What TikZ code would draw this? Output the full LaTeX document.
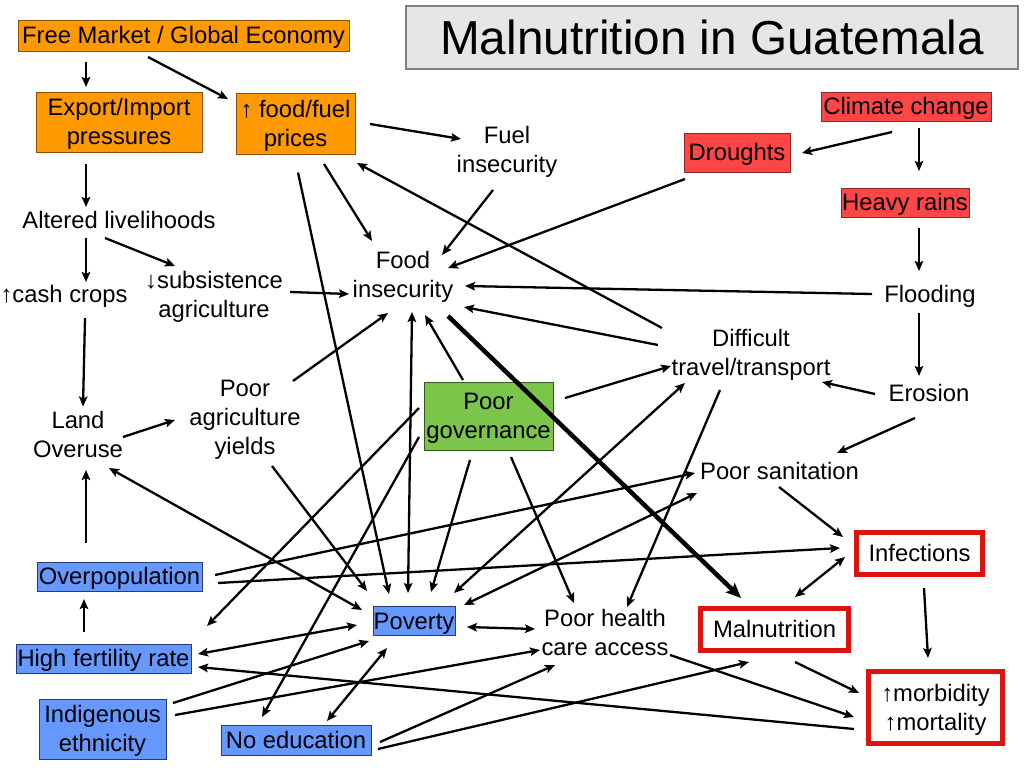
\documentclass[tikz,border=0pt]{standalone}
\usepackage{fontspec}
\setmainfont{Liberation Sans}
\usetikzlibrary{arrows.meta}
\definecolor{orF}{RGB}{255,153,0}
\definecolor{orD}{RGB}{140,80,10}
\definecolor{rdF}{RGB}{255,70,70}
\definecolor{rdD}{RGB}{140,40,40}
\definecolor{blF}{RGB}{102,153,255}
\definecolor{blD}{RGB}{40,60,120}
\definecolor{grF}{RGB}{122,197,74}
\definecolor{grD}{RGB}{50,90,30}
\definecolor{rdO}{RGB}{220,20,15}
\definecolor{ttF}{RGB}{230,230,230}
\definecolor{ttD}{RGB}{128,128,128}
\newcommand\sT{\rule[-6.1pt]{0pt}{29pt}}
\newcommand\cnx[5][con]{\draw[#1] ([shift={(#3)}]#2.center) -- ([shift={(#5)}]#4.center);}
\begin{document}
\begin{tikzpicture}[x=1pt,y=-1pt,
  lab/.style={align=center,inner sep=0pt,outer sep=0pt,font=\fontsize{23.8}{29}\selectfont},
  obox/.style={lab,draw=orD,fill=orF,line width=0.9pt},
  rbox/.style={lab,draw=rdD,fill=rdF,line width=0.9pt},
  bbox/.style={lab,draw=blD,fill=blF,line width=0.9pt},
  gbox/.style={lab,draw=grD,fill=grF,line width=0.9pt},
  obx/.style={lab,draw=rdO,fill=white,line width=5pt},
  con/.style={line width=2.3pt,-{Stealth[length=10pt,width=8.5pt,inset=2pt]}},
  dcon/.style={line width=2.3pt,{Stealth[length=10pt,width=8.5pt,inset=2pt]}-{Stealth[length=10pt,width=8.5pt,inset=2pt]}},
  thk/.style={line width=4.5pt,-{Stealth[length=15pt,width=13pt,inset=3pt]}}]
\path[fill=white,use as bounding box] (0,0) rectangle (1024,768);
% title
\node[draw=ttD,fill=ttF,line width=1.5pt,inner sep=0pt,minimum width=612pt,minimum height=63pt,
  font=\fontsize{47.7}{57}\selectfont,text height=34.2pt,text depth=0pt] (title) at (712,37.5) {Malnutrition in Guatemala};
% orange
\node[obox,minimum width=331pt,minimum height=31pt] (fm) at (183.5,35.5) {\sT Free Market / Global Economy};
\node[obox,minimum width=166pt,minimum height=60pt] (exp) at (119,122) {\sT Export/Import\\\sT pressures};
\node[obox,minimum width=119pt,minimum height=61pt] (ffp) at (295.5,123.5) {\sT ↑ food/fuel\\\sT prices};
% red
\node[rbox,minimum width=170pt,minimum height=29pt] (cc) at (906,106.5) {\sT Climate change};
\node[rbox,minimum width=106pt,minimum height=39pt] (dr) at (737,152.5) {\sT Droughts};
\node[rbox,minimum width=128pt,minimum height=29pt] (hr) at (905,202.5) {\sT Heavy rains};
% plain text
\node[lab] (fuel) at (507,149.5) {\sT Fuel\\\sT insecurity};
\node[lab] (alt) at (119,220) {\sT Altered livelihoods};
\node[lab] (cash) at (64,294) {\sT ↑cash crops};
\node[lab] (sub) at (214,295) {\sT ↓subsistence\\\sT agriculture};
\node[lab] (food) at (403,275) {\sT Food\\\sT insecurity};
\node[lab] (flood) at (930,294) {\sT Flooding};
\node[lab] (diff) at (751,353) {\sT Difficult\\\sT travel/transport};
\node[lab] (land) at (78,434.5) {\sT Land\\\sT Overuse};
\node[lab] (pay) at (245,417.5) {\sT Poor\\\sT agriculture\\\sT yields};
\node[lab] (eros) at (929,393.5) {\sT Erosion};
\node[lab] (san) at (779.5,471.5) {\sT Poor sanitation};
\node[lab] (phc) at (605,633) {\sT Poor health\\\sT care access};
% green
\node[gbox,minimum width=129pt,minimum height=68pt] (gov) at (488.5,416) {\sT Poor\\\sT governance};
% blue
\node[bbox,minimum width=165pt,minimum height=29pt] (ovp) at (119.5,576.5) {\sT Overpopulation};
\node[bbox,minimum width=82pt,minimum height=28pt] (pov) at (414,621) {\sT Poverty};
\node[bbox,minimum width=175pt,minimum height=29pt] (hfr) at (103.5,658.5) {\sT High fertility rate};
\node[bbox,minimum width=127pt,minimum height=60pt] (ind) at (102.5,729) {\sT Indigenous\\\sT ethnicity};
\node[bbox,minimum width=150pt,minimum height=30pt] (noed) at (296,740) {\sT No education};
% red outlined
\node[obx,minimum width=126pt,minimum height=42pt] (inf) at (919.5,553.5) {\sT Infections};
\node[obx,minimum width=148pt,minimum height=42pt] (mal) at (774.5,629.5) {\sT Malnutrition};
\node[obx,minimum width=134pt,minimum height=72pt] (mm) at (935.5,707.5) {\sT ↑morbidity\\\sT ↑mortality};
% connectors
\cnx{fm}{-97.5,26.5}{exp}{-33,-35}
\cnx{fm}{-35.5,21.5}{ffp}{-67.5,-24.5}
\cnx{exp}{-33,42}{alt}{-33,-13}
\cnx{alt}{-33,18}{cash}{22,-12}
\cnx{alt}{-14,18}{sub}{-39,-29}
\cnx{cash}{21,24}{land}{5,-28}
\cnx{sub}{76,-3}{food}{-54,19}
\cnx{ffp}{74.5,0.5}{fuel}{-46,-10.5}
\cnx{ffp}{28.5,40.5}{food}{-31,-34}
\cnx{ffp}{2.5,49}{pov}{-25,-27}
\cnx{fuel}{-14,40.5}{food}{39,-20}
\cnx{dr}{-52,26.5}{food}{45,-7}
\cnx{diff}{-89,-25}{ffp}{61.5,39.5}
\cnx{flood}{-58,0}{food}{62,11}
\cnx{diff}{-93,-8}{food}{61,32}
\cnx{cc}{-14,25.5}{dr}{65,0.5}
\cnx{cc}{13,21.5}{hr}{14,-31.5}
\cnx{hr}{14,25.5}{flood}{-11,-23}
\cnx{flood}{-11,19}{eros}{-10,-17.5}
\cnx{eros}{-54,0.5}{diff}{71,29}
\cnx{eros}{-14,24.5}{san}{57.5,-18.5}
\cnx{gov}{76.5,-18}{diff}{-80,13}
\cnx{gov}{-25.5,-36}{food}{22,40}
\cnx[dcon]{food}{9,37}{pov}{-6,-28}
\cnx{pay}{48,-36.5}{food}{-15,38}
\cnx{land}{45,2.5}{pay}{-70,2.5}
\cnx[dcon]{land}{31,33.5}{pov}{-52,-11}
\cnx{pay}{27,48.5}{pov}{-47,-30}
\cnx{gov}{-18.5,44}{pov}{17,-29}
\cnx[dcon]{diff}{-66,30}{pov}{40,-28}
\cnx[dcon]{pov}{50,-16}{san}{-82.5,21.5}
\cnx{ovp}{95.5,-1.5}{san}{-84.5,1.5}
\cnx{ovp}{98.5,6.5}{inf}{-79.5,-5.5}
\cnx{ovp}{-33.5,-33.5}{land}{8,35.5}
\cnx{hfr}{-19.5,-26.5}{ovp}{-35.5,22.5}
\cnx{gov}{-69.5,-8}{hfr}{103.5,-32.5}
\cnx{gov}{-69.5,21}{noed}{-34,-23}
\cnx[dcon]{pov}{-57,4}{hfr}{94.5,-4.5}
\cnx{ind}{70.5,-26}{pov}{-45,20}
\cnx{ind}{72.5,-14}{phc}{-65,17}
\cnx[dcon]{pov}{-27,27}{noed}{31,-19}
\cnx[dcon]{pov}{53,6}{phc}{-70,-4}
\cnx{gov}{22.5,41}{phc}{-31,-30}
\cnx{diff}{-31,37}{phc}{22,-26}
\cnx{noed}{84,2}{phc}{-50,32}
\cnx{noed}{82,9}{mal}{-25.5,32.5}
\cnx{mm}{-81.5,21.5}{hfr}{94.5,8.5}
\cnx{phc}{65,22}{mm}{-81.5,9.5}
\cnx{mal}{20.5,32.5}{mm}{-76.5,-14.5}
\cnx{inf}{4.5,34.5}{mm}{-7.5,-49.5}
\cnx[dcon]{inf}{-74.5,3.5}{mal}{20.5,-32.5}
\cnx{san}{-0.5,15.5}{inf}{-76.5,-16.5}
\cnx[thk]{food}{45,41}{mal}{-33.5,-31.5}
\end{tikzpicture}
\end{document}
